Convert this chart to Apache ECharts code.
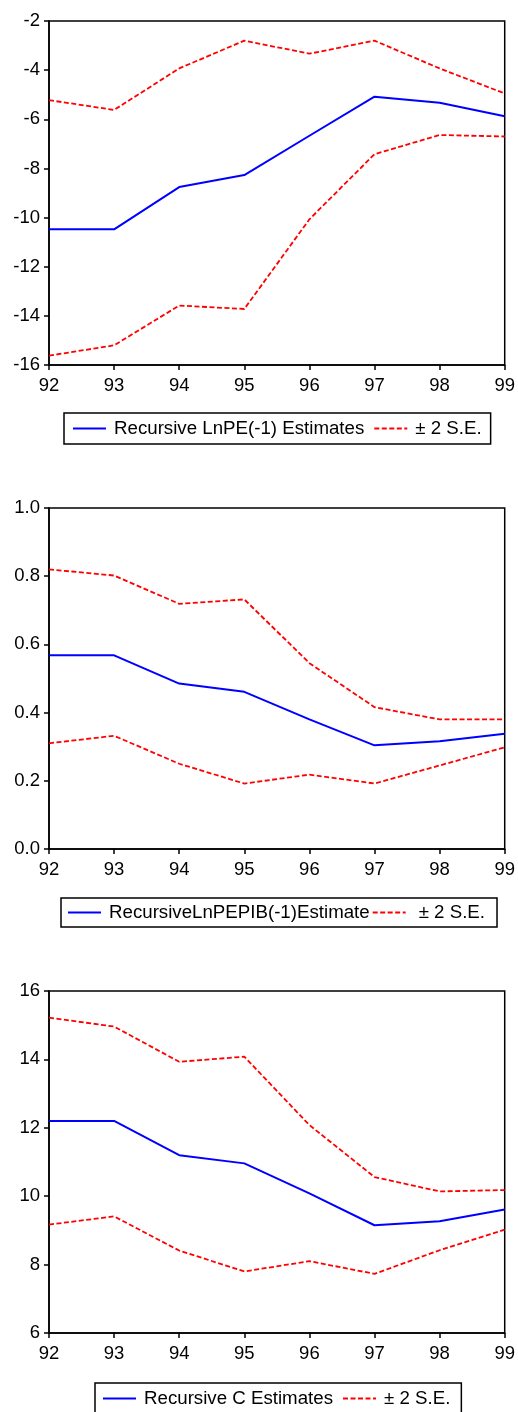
<!DOCTYPE html>
<html>
<head>
<meta charset="utf-8">
<script src="https://cdn.jsdelivr.net/npm/echarts@6/dist/echarts.min.js"></script>
<style>
html,body{margin:0;padding:0;background:#fff;}
#c{width:518px;height:1412px;}
</style>
</head>
<body>
<div id="c"></div>
<script>
const years = ['92','93','94','95','96','97','98','99'];

const lnpeEst   = [-10.48,-10.48,-8.76,-8.27,-6.67,-5.08,-5.33,-5.88];
const lnpeUpper = [-5.22,-5.62,-3.93,-2.80,-3.33,-2.80,-3.93,-4.95];
const lnpeLower = [-15.62,-15.20,-13.58,-13.72,-10.07,-7.42,-6.64,-6.70];

const pibEst   = [0.568,0.568,0.485,0.461,0.380,0.304,0.316,0.338];
const pibUpper = [0.820,0.802,0.719,0.732,0.545,0.416,0.380,0.380];
const pibLower = [0.310,0.332,0.250,0.192,0.218,0.192,0.245,0.298];

const cEst   = [12.20,12.20,11.20,10.96,10.08,9.15,9.27,9.61];
const cUpper = [15.22,14.96,13.93,14.08,12.08,10.56,10.14,10.18];
const cLower = [9.17,9.41,8.41,7.80,8.10,7.73,8.42,9.02];

const estNames = ['Recursive LnPE(-1) Estimates','RecursiveLnPEPIB(-1)Estimate','Recursive C Estimates'];
const seName = '± 2 S.E.';

const FONT = 'Liberation Sans, Arial, sans-serif';
const grids = [
  {left:49, right:11, top:21, height:344},
  {left:49, right:11, top:508, height:341},
  {left:49, right:11, top:991, height:342}
];
const yRanges = [
  {min:-16, max:-2, interval:2, fmt:v=>String(v)},
  {min:0, max:1, interval:0.2, fmt:v=>v.toFixed(1)},
  {min:6, max:16, interval:2, fmt:v=>String(v)}
];
const estData = [lnpeEst, pibEst, cEst];
const upData = [lnpeUpper, pibUpper, cUpper];
const loData = [lnpeLower, pibLower, cLower];

const axisLine = {show:true, lineStyle:{color:'#000', width:1.5}};
const option = {
  backgroundColor:'#fff',
  animation:false,
  grid: grids.map(g => Object.assign({show:true, borderColor:'#000', borderWidth:1.5, backgroundColor:'transparent'}, g)),
  xAxis: grids.map((g,i) => ({
    type:'category', gridIndex:i, data:years, boundaryGap:false,
    axisLine: axisLine,
    axisTick:{show:true, inside:false, length:5, lineStyle:{color:'#000', width:1.5}},
    axisLabel:{color:'#000', fontSize:18.5, fontFamily:FONT, margin:11},
    splitLine:{show:false}
  })),
  yAxis: yRanges.map((r,i) => ({
    type:'value', gridIndex:i, min:r.min, max:r.max, interval:r.interval,
    axisLine: axisLine,
    axisTick:{show:true, inside:false, length:5, lineStyle:{color:'#000', width:1.5}},
    axisLabel:{color:'#000', fontSize:18.5, fontFamily:FONT, margin:9, formatter:r.fmt},
    splitLine:{show:false}
  })),
  legend: [
    {left:64, top:413, itemGap:9, padding:[6,9,6,8]},
    {left:61, top:898, itemGap:2, padding:[5,12,5,6]},
    {left:95, top:1383, itemGap:9, padding:[6,11,6,7]}
  ].map((l,i) => Object.assign({
    data:[estNames[i], seName],
    borderColor:'#000', borderWidth:1.5, borderRadius:0,
    itemWidth:33, itemHeight:14,
    selectedMode:false,
    itemStyle:{opacity:0},
    textStyle:{color:'#000', fontSize:18.7, fontFamily:FONT, padding:[0,0,0,3]}
  }, l)),
  series: []
};
option.legend[1].data = [estNames[1], {name:seName, textStyle:{padding:[0,0,0,8]}}];

for (let i=0;i<3;i++){
  option.series.push({
    name:estNames[i], type:'line', xAxisIndex:i, yAxisIndex:i, data:estData[i],
    symbol:'none', lineStyle:{color:'#0000ff', width:2}, itemStyle:{color:'#0000ff'}
  });
  [upData[i], loData[i]].forEach(d => option.series.push({
    name:seName, type:'line', xAxisIndex:i, yAxisIndex:i, data:d,
    symbol:'none', lineStyle:{color:'#ff0000', width:1.8, type:[5,2.5]}, itemStyle:{color:'#ff0000'}
  }));
}

const chart = echarts.init(document.getElementById('c'), null, {renderer:'canvas'});
chart.setOption(option);
</script>
</body>
</html>
